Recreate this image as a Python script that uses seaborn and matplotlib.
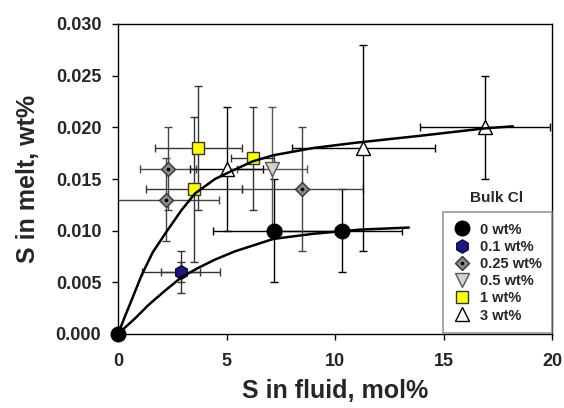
import matplotlib
matplotlib.use("Agg")
import matplotlib.pyplot as plt
from matplotlib.lines import Line2D
from matplotlib.legend_handler import HandlerTuple
import seaborn as sns

# data (S in fluid mol%, S in melt wt%)
cl0_x = [0, 7.2, 10.3]
cl0_y = [0.0, 0.010, 0.010]
cl0_xerr = [0, 2.8, 2.8]
cl0_yerr = [0, 0.005, 0.004]

cl01_x = [2.9, 2.9]
cl01_y = [0.006, 0.006]
cl01_xerr = [1.8, 0.9]
cl01_yerr = [0.002, 0.001]

cl025_x = [2.3, 2.2, 8.5]
cl025_y = [0.016, 0.013, 0.014]
cl025_xerr = [1.3, 2.45, 2.8]
cl025_yerr = [0.004, 0.004, 0.006]

cl05_x = [7.1]
cl05_y = [0.016]
cl05_xerr = [1.6]
cl05_yerr = [0.006]

cl1_x = [3.7, 6.2, 3.5]
cl1_y = [0.018, 0.017, 0.014]
cl1_xerr = [2.0, 1.0, 2.2]
cl1_yerr = [0.006, 0.005, 0.007]

cl3_x = [5.0, 11.3, 16.9]
cl3_y = [0.016, 0.018, 0.020]
cl3_xerr = [1.7, 3.3, 3.0]
cl3_yerr = [0.006, 0.010, 0.005]

# trend curves, points
upper_x = [0, 0.32, 0.63, 1.09, 1.6, 2.17, 2.93, 3.55, 4.47, 5.16, 6.2, 7.16, 9.0, 10.92, 14.0, 16.9, 18.2]
upper_y = [0, 0.0017, 0.0033, 0.0057, 0.0079, 0.0097, 0.0120, 0.0136, 0.0150, 0.0157, 0.0167, 0.0173,
           0.0180, 0.0185, 0.0192, 0.0199, 0.0201]
lower_x = [0, 0.78, 1.4, 2.17, 2.93, 3.7, 4.47, 5.39, 7.16, 9.0, 11.15, 13.4]
lower_y = [0, 0.0015, 0.0028, 0.0042, 0.0055, 0.0064, 0.0072, 0.0080, 0.0092, 0.0097, 0.0101, 0.0103]

legend_labels = ["0 wt%", "0.1 wt%", "0.25 wt%", "0.5 wt%", "1 wt%", "3 wt%"]

sns.set_style("ticks")
plt.rcParams["font.family"] = ["Liberation Sans", "DejaVu Sans"]
plt.rcParams["font.weight"] = "bold"

fig = plt.figure(figsize=(5.64, 4.08), dpi=100)
ax = fig.add_axes([118 / 564, 1 - 334 / 408, 434 / 564, 310 / 408])

styles = [
    dict(marker="o", ms=10.5, mfc="black", mec="black", ecol="black"),
    dict(marker="h", ms=9.5, mfc="#1c1680", mec="#0a0a40", ecol="#333333"),
    dict(marker="D", ms=6.8, mfc="#8c8882", mec="#333333", ecol="#444444"),
    dict(marker="v", ms=9.5, mfc="#d6d2ca", mec="#555555", ecol="#555555"),
    dict(marker="s", ms=8.5, mfc="#ffff00", mec="#333333", ecol="#333333"),
    dict(marker="^", ms=9.5, mfc="white", mec="black", ecol="black"),
]
series = [
    (cl0_x, cl0_y, cl0_xerr, cl0_yerr),
    (cl01_x, cl01_y, cl01_xerr, cl01_yerr),
    (cl025_x, cl025_y, cl025_xerr, cl025_yerr),
    (cl05_x, cl05_y, cl05_xerr, cl05_yerr),
    (cl1_x, cl1_y, cl1_xerr, cl1_yerr),
    (cl3_x, cl3_y, cl3_xerr, cl3_yerr),
]

for (xs, ys, xe, ye), st in zip(series, styles):
    ax.errorbar(xs, ys, xerr=xe, yerr=ye, fmt="none", ecolor=st["ecol"],
                elinewidth=1, capsize=3, capthick=1, zorder=2)

handles = []
for (xs, ys, xe, ye), st, lab in zip(series, styles, legend_labels):
    ax.plot(xs, ys, linestyle="none", marker=st["marker"], ms=st["ms"],
            mfc=st["mfc"], mec=st["mec"], mew=1, zorder=3, clip_on=False)
    h = Line2D([], [], linestyle="none", marker=st["marker"], ms=st["ms"],
               mfc=st["mfc"], mec=st["mec"], mew=1)
    if st["marker"] == "D":
        dot = Line2D([], [], linestyle="none", marker="o", ms=1.6, mfc="black", mec="black")
        h = (h, dot)
    handles.append(h)

# dots in the diamonds
ax.plot(cl025_x, cl025_y, linestyle="none", marker="o", ms=1.6, mfc="black", mec="black", zorder=4)

sns.lineplot(x=upper_x, y=upper_y, ax=ax, color="black", linewidth=1.8, zorder=5, sort=False)
sns.lineplot(x=lower_x, y=lower_y, ax=ax, color="black", linewidth=1.8, zorder=5, sort=False)

ax.set_xlim(0, 20)
ax.set_ylim(0, 0.030)
yticks = [0, 0.005, 0.010, 0.015, 0.020, 0.025, 0.030]
ax.set_xticks([0, 5, 10, 15, 20])
ax.set_yticks(yticks)
ax.set_yticklabels([f"{v:.3f}" for v in yticks])
ax.tick_params(axis="both", direction="out", length=4, width=1, labelsize=13, color="black")
ax.tick_params(axis="x", pad=10)
ax.tick_params(axis="y", pad=8)
for lbl in ax.get_xticklabels() + ax.get_yticklabels():
    lbl.set_fontweight("bold")
for sp in ax.spines.values():
    sp.set_visible(True)
    sp.set_color("black")
    sp.set_linewidth(1)

ax.set_xlabel("S in fluid, mol%", fontsize=18, fontweight="bold", labelpad=6)
ax.set_ylabel("S in melt, wt%", fontsize=18, fontweight="bold", labelpad=11)

leg = ax.legend(handles, legend_labels, loc="lower right", bbox_to_anchor=(1.0, 0.004),
                borderaxespad=0, frameon=True, fancybox=False, edgecolor="#7f7f7f",
                prop={"size": 10.5, "weight": "bold"}, handlelength=1.1, handletextpad=0.7,
                labelspacing=0.22, borderpad=0.7,
                handler_map={tuple: HandlerTuple(ndivide=1)})
leg.get_frame().set_linewidth(1.2)
leg.set_zorder(10)
ax.text(0.873, 0.44, "Bulk Cl", transform=ax.transAxes, ha="center", va="center",
        fontsize=11, fontweight="bold")

fig.savefig("out.png", dpi=100)
